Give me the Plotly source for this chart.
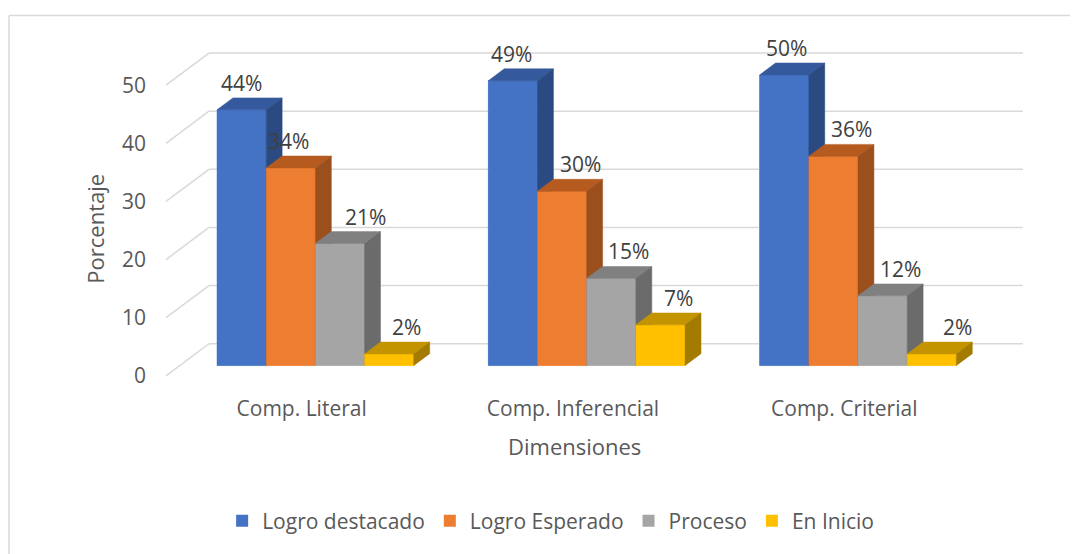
import plotly.graph_objects as go

# ---------------- data ----------------
categories = ["Comp. Literal", "Comp. Inferencial", "Comp. Criterial"]
series_names = ["Logro destacado", "Logro Esperado", "Proceso", "En Inicio"]
logro_destacado = [44, 49, 50]
logro_esperado = [34, 30, 36]
proceso = [21, 15, 12]
en_inicio = [2, 7, 2]
y_ticks = [0, 10, 20, 30, 40, 50]
x_title = "Dimensiones"
y_title = "Porcentaje"

series_values = [logro_destacado, logro_esperado, proceso, en_inicio]

# ---------------- style ----------------
FRONT_COLORS = ["#4472C4", "#ED7D31", "#A5A5A5", "#FFC000"]
TOP_COLORS = ["#34599C", "#B55B1F", "#808080", "#C49400"]
SIDE_COLORS = ["#2B4A82", "#9A4F1C", "#6B6B6B", "#A37B00"]
GRID_COLOR = "#D9D9D9"
TEXT_COLOR = "#595959"
LABEL_COLOR = "#404040"
FONT = "Open Sans"
FS = 21
FS_TITLE = 22

# pseudo-3D geometry (x in category units, y in value units)
DEPTH_X = 0.1585
DEPTH_Y = 5.52
FRONT_FRAC = 0.32
BAR_DEPTH_FRAC = 0.37
BAR_W = 0.1813
base = FRONT_FRAC * DEPTH_Y
shift_x = FRONT_FRAC * DEPTH_X
bdx = BAR_DEPTH_FRAC * DEPTH_X
bdy = BAR_DEPTH_FRAC * DEPTH_Y

# label nudges in px (series x category)
LABEL_XSHIFT = [[0, -1, 2], [-2, 18, 18], [25, 17, 18], [17, 18, 26]]

fig = go.Figure()

# legend / base bars (covered by the faces drawn on top)
for j, (name, vals) in enumerate(zip(series_names, series_values)):
    xs = [i + 0.5 + shift_x + (j - 2) * BAR_W + BAR_W / 2 for i in range(len(categories))]
    fig.add_trace(go.Bar(x=xs, y=vals, base=base, width=BAR_W, name=name,
                         marker=dict(color=FRONT_COLORS[j], line=dict(width=0)),
                         hoverinfo="skip"))

# back wall + side wall gridlines
gx, gy = [], []
n = len(categories)
for v in y_ticks:
    gx += [DEPTH_X, n + DEPTH_X, None]
    gy += [v + DEPTH_Y, v + DEPTH_Y, None]
    gx += [0, DEPTH_X, None]
    gy += [v, v + DEPTH_Y, None]
fig.add_trace(go.Scatter(x=gx, y=gy, mode="lines", line=dict(color=GRID_COLOR, width=1.5),
                         showlegend=False, hoverinfo="skip"))

# bar faces
for j, vals in enumerate(series_values):
    fx, fy, tx, ty, sx, sy = [], [], [], [], [], []
    for i, v in enumerate(vals):
        x0 = i + 0.5 + shift_x + (j - 2) * BAR_W
        x1 = x0 + BAR_W
        b = base
        t = base + v
        fx += [x0, x1, x1, x0, x0, None]
        fy += [b, b, t, t, b, None]
        tx += [x0, x1, x1 + bdx, x0 + bdx, x0, None]
        ty += [t, t, t + bdy, t + bdy, t, None]
        sx += [x1, x1 + bdx, x1 + bdx, x1, x1, None]
        sy += [b, b + bdy, t + bdy, t, b, None]
    for px, py, col in [(fx, fy, FRONT_COLORS[j]), (tx, ty, TOP_COLORS[j]), (sx, sy, SIDE_COLORS[j])]:
        fig.add_trace(go.Scatter(x=px, y=py, mode="lines", fill="toself", fillcolor=col,
                                 line=dict(color=col, width=0.5), showlegend=False,
                                 hoverinfo="skip"))

# data labels
annotations = []
for j, vals in enumerate(series_values):
    for i, v in enumerate(vals):
        x0 = i + 0.5 + shift_x + (j - 2) * BAR_W
        annotations.append(dict(x=x0 + BAR_W / 2, y=base + v + bdy, xref="x", yref="y",
                                text=f"{v}%", showarrow=False, yanchor="bottom",
                                xshift=LABEL_XSHIFT[j][i], yshift=-1,
                                font=dict(family=FONT, size=FS, color=LABEL_COLOR)))

# axis titles
annotations.append(dict(x=0.4785, y=-0.156, xref="paper", yref="paper", text=x_title,
                        showarrow=False, xanchor="center", yanchor="middle",
                        font=dict(family=FONT, size=FS_TITLE, color=TEXT_COLOR)))
annotations.append(dict(x=-0.0582, y=0.452, xref="paper", yref="paper", text=y_title,
                        showarrow=False, xanchor="center", yanchor="middle", textangle=-90,
                        font=dict(family=FONT, size=FS_TITLE, color=TEXT_COLOR)))

fig.update_layout(
    width=1070, height=546, autosize=False,
    margin=dict(l=139, r=38, t=25, b=156),
    paper_bgcolor="white", plot_bgcolor="white",
    barmode="overlay",
    annotations=annotations,
    showlegend=True,
    legend=dict(orientation="h", x=0.452, xanchor="center", y=-0.367, yanchor="middle",
                font=dict(family=FONT, size=FS, color=TEXT_COLOR), traceorder="normal"),
    xaxis=dict(range=[-0.0700, 3.2215], tickvals=[i + 0.5 for i in range(n)], ticktext=categories,
               showgrid=False, zeroline=False, showline=False, ticks="", ticklabelstandoff=4,
               tickfont=dict(family=FONT, size=FS, color=TEXT_COLOR), fixedrange=True),
    yaxis=dict(range=[-2.439, 58.97], tickvals=y_ticks, showgrid=False, zeroline=False,
               showline=False, ticks="", tickfont=dict(family=FONT, size=FS, color=TEXT_COLOR),
               fixedrange=True),
    shapes=[
        dict(type="line", xref="paper", yref="paper", x0=-0.1545, y0=1.0493, x1=1.1, y1=1.0493,
             line=dict(color=GRID_COLOR, width=1.5)),
        dict(type="line", xref="paper", yref="paper", x0=-0.1545, y0=1.0493, x1=-0.1545, y1=-0.5,
             line=dict(color=GRID_COLOR, width=1.5)),
    ],
)

fig.write_html("out.html")
